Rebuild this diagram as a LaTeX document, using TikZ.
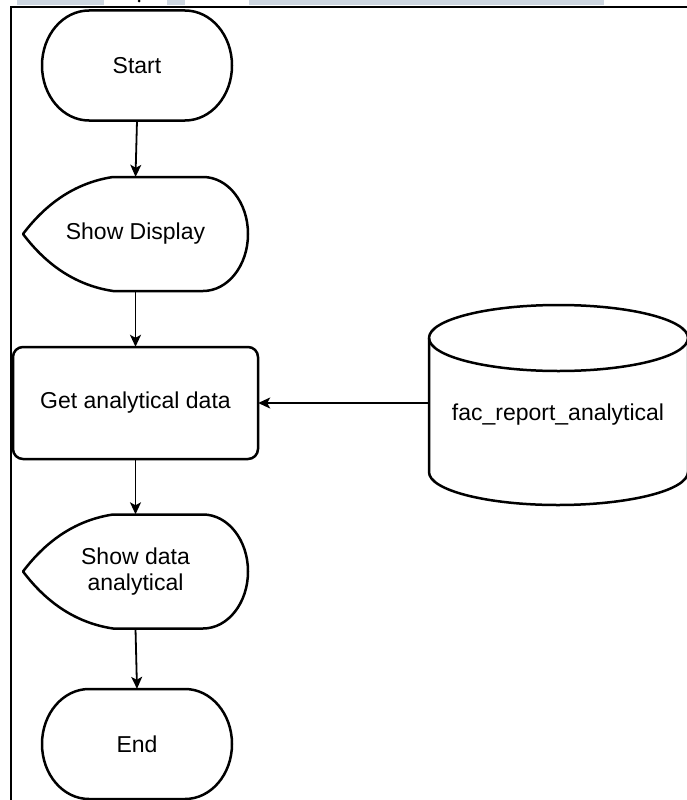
\documentclass[tikz,border=0pt]{standalone}
\usepackage{fontspec}
\setmainfont{Liberation Sans}
\usetikzlibrary{arrows.meta}
\definecolor{stripgrey}{HTML}{CDD6E0}
\begin{document}
\begin{tikzpicture}[x=1pt,y=-1pt,
  shapeline/.style={line width=2.5pt, draw=black, line join=round},
  conn/.style={line width=1.8pt, -{Stealth[length=12pt,width=11pt,inset=3pt]}},
  lbl/.style={font=\fontsize{23}{26}\selectfont, align=center, inner sep=0pt, text=black},
  termshape/.pic={\draw[shapeline] (-48,-55) -- (48,-55) .. controls (74,-55) and (95,-30.4) .. (95,0) .. controls (95,30.4) and (74,55) .. (48,55) -- (-48,55) .. controls (-74,55) and (-95,30.4) .. (-95,0) .. controls (-95,-30.4) and (-74,-55) .. (-48,-55) -- cycle;},
  dispshape/.pic={\draw[shapeline] (-112.5,0) .. controls (-87.8,-32.7) and (-57.8,-51.7) .. (-22.5,-57) -- (67.5,-57) .. controls (92.4,-57) and (112.5,-31.5) .. (112.5,0) .. controls (112.5,31.5) and (92.4,57) .. (67.5,57) -- (-22.5,57) .. controls (-57.8,51.7) and (-87.8,32.7) .. (-112.5,0) -- cycle;}]
\useasboundingbox (0,0) rectangle (686,800);
\fill[white] (0,0) rectangle (686,800);
% top strip
\fill[stripgrey] (17,0) rectangle (185,5.5);
\fill[white] (104,0) rectangle (167,5.5);
\fill[black] (139,1) circle (1.5pt);
\fill[stripgrey] (249,0) rectangle (604,5.5);
% frame
\draw[line width=2.4pt] (11,801) -- (11,7) -- (687,7);
% shapes
\pic at (137,65.5) {termshape};
\pic at (135.5,234) {dispshape};
\draw[shapeline, rounded corners=10pt] (13,347) rectangle (258,459);
\pic at (135.5,571.5) {dispshape};
\pic at (137,744) {termshape};
% cylinder
\draw[shapeline, fill=white] (429,338) -- (429,472) .. controls (429,490.2) and (486.8,505) .. (558,505) .. controls (629.2,505) and (688,490.2) .. (688,472) -- (688,338);
\draw[shapeline] (558.5,338) ellipse [x radius=129.5pt, y radius=33pt];
% nodes
\node[lbl, minimum width=190pt, minimum height=110pt] (start) at (137,65.5) {Start};
\node[lbl, minimum width=225pt, minimum height=114pt] (disp) at (135.5,234) {Show Display};
\node[lbl, minimum width=245pt, minimum height=112pt] (get) at (135.5,403) {Get analytical data};
\node[lbl, minimum width=258pt, minimum height=180pt] (db) at (558,415) {fac\_report\_analytical};
\node[lbl, minimum width=225pt, minimum height=114pt] (show) at (135.5,571.5) {Show data\\analytical};
\node[lbl, minimum width=190pt, minimum height=110pt] (end) at (137,744) {End};
% connectors
\draw[conn] (start.south) -- (disp.north);
\draw[conn] (disp.south) -- (get.north);
\draw[conn] (db.west |- get.east) -- (get.east);
\draw[conn] (get.south) -- (show.north);
\draw[conn] (show.south) -- (end.north);
\end{tikzpicture}
\end{document}
